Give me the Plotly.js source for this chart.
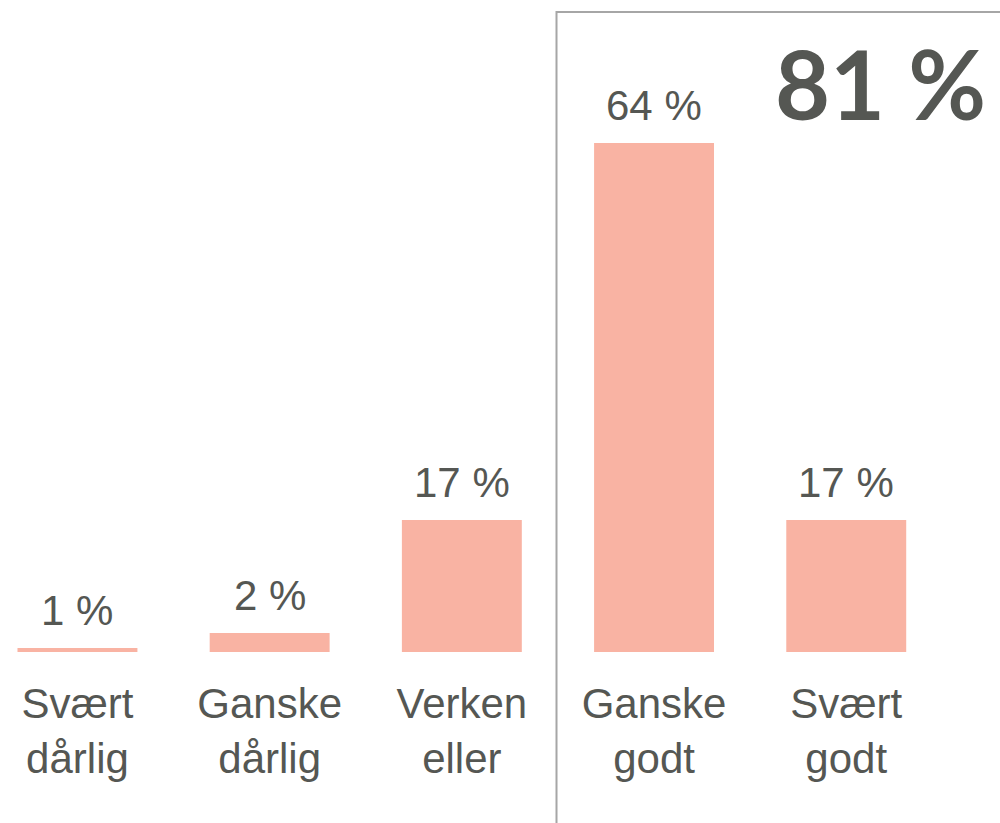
<!DOCTYPE html>
<html>
<head>
<meta charset="utf-8">
<script src="https://cdn.plot.ly/plotly-3.0.1.min.js"></script>
<style>html,body{margin:0;padding:0;background:#fff;}#chart{width:1000px;height:823px;}</style>
</head>
<body>
<div id="chart"></div>
<script>
// Data
const categories = ["Svært dårlig", "Ganske dårlig", "Verken eller", "Ganske godt", "Svært godt"];
const tickLabels = ["Svært<br>dårlig", "Ganske<br>dårlig", "Verken<br>eller", "Ganske<br>godt", "Svært<br>godt"];
const values = [0.5, 2.4, 16.6, 64.0, 16.6];
const valueLabels = ["1 %", "2 %", "17 %", "64 %", "17 %"];
const totalLabel = "81 %";

const textColor = "#555753";
const barColor = "#F9B3A3";
const fontFamily = "Liberation Sans, Arial, sans-serif";

const trace = {
  type: "bar",
  x: categories,
  y: values,
  marker: {color: barColor},
  hoverinfo: "none"
};

const annotations = categories.map((c, i) => ({
  x: c, y: values[i], xref: "x", yref: "y",
  text: valueLabels[i], showarrow: false,
  yanchor: "bottom", yshift: 12,
  font: {family: fontFamily, size: 42, color: textColor}
}));
annotations.push({
  xref: "paper", yref: "paper", x: 0.773, y: 1.0, xanchor: "left", yanchor: "top",
  yshift: -24,
  text: "<b>" + totalLabel + "</b>", showarrow: false,
  font: {family: "Lato, sans-serif", size: 95, color: textColor}
});

const layout = {
  width: 1000, height: 823,
  margin: {l: 0, r: 0, t: 0, b: 171},
  paper_bgcolor: "#fff", plot_bgcolor: "#fff",
  showlegend: false,
  bargap: 0.376,
  xaxis: {
    type: "category",
    range: [-0.403, 4.8],
    tickvals: categories, ticktext: tickLabels,
    showline: false, showgrid: false, zeroline: false, ticks: "",
    ticklabelstandoff: 23,
    tickfont: {family: fontFamily, size: 42, color: textColor}
  },
  yaxis: {range: [0, 82.0], visible: false, showgrid: false, zeroline: false},
  shapes: [{
    type: "rect", xref: "paper", yref: "paper",
    x0: 0.5565, x1: 1.02, y0: -0.3, y1: 0.9816,
    line: {color: "#A6A6A6", width: 2}, fillcolor: "rgba(0,0,0,0)", layer: "below"
  }],
  annotations: annotations
};

Plotly.newPlot("chart", [trace], layout, {staticPlot: true, displayModeBar: false});
</script>
</body>
</html>
